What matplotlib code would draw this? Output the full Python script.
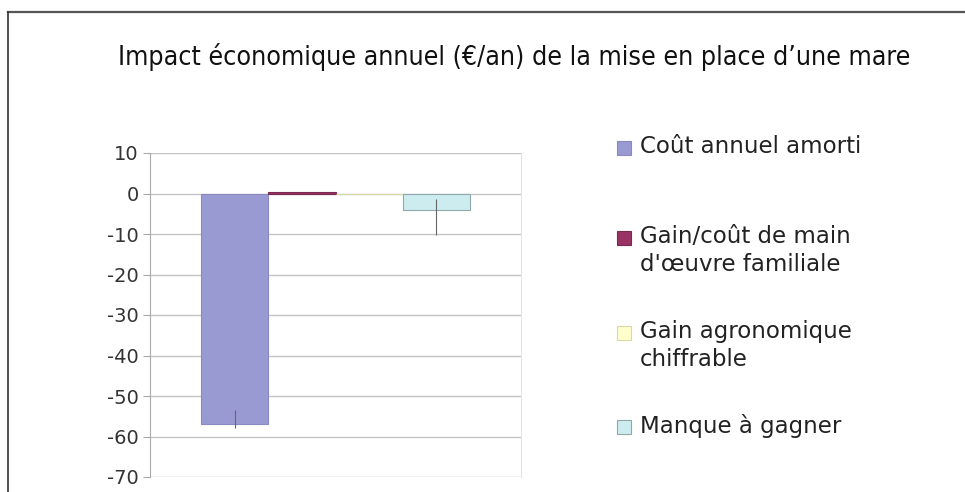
import matplotlib
matplotlib.use("Agg")
import matplotlib.pyplot as plt
from matplotlib.patches import Rectangle
from matplotlib.lines import Line2D
import numpy as np

plt.rcParams["axes.unicode_minus"] = False

# Données (€/an)
SERIES = ["Coût annuel amorti", "Gain/coût de main\nd'œuvre familiale",
          "Gain agronomique\nchiffrable", "Manque à gagner"]
VALUES = [-57, 0.3, 0, -4]
ERR_LOW = [0.8, 0, 0, 6.3]
ERR_HIGH = [3.5, 0, 0, 2.6]
COLORS = ["#9a9ad2", "#993366", "#ffffcc", "#ccecf0"]
EDGES = ["#8a8ac0", "#7a2a50", "#d8d8a8", "#90a8aa"]
YTICKS = list(range(-70, 11, 10))
TITLE = "Impact économique annuel (€/an) de la mise en place d\u2019une mare"

W, H = 965, 492
fig = plt.figure(figsize=(W / 100, H / 100), dpi=100)
fig.patch.set_facecolor("white")

# cadre extérieur (haut + gauche)
fig.add_artist(Line2D([8 / W, 1], [1 - 12 / H, 1 - 12 / H], color="#555555", lw=1.6))
fig.add_artist(Line2D([8 / W, 8 / W], [0, 1 - 12 / H], color="#333333", lw=1.2))

title = fig.text(514 / W, 1 - 57 / H, TITLE, ha="center", va="center", fontsize=22,
                 family="DejaVu Sans", stretch="condensed", color="#111111")
# ajuster la taille pour tenir dans la largeur du titre d'origine (~793 px)
r = fig.canvas.get_renderer()
tw = title.get_window_extent(renderer=r).width
if tw > 795:
    title.set_fontsize(22 * 793 / tw)

ax = fig.add_axes([150 / W, 15 / H, 371 / W, 324 / H])
w = 0.181
x = (np.arange(len(VALUES)) - 1.5) * w
ax.bar(x, VALUES, w, color=COLORS, edgecolor=EDGES, linewidth=0.8, zorder=2)
ax.errorbar(x, VALUES, yerr=[ERR_LOW, ERR_HIGH], fmt="none", ecolor="#666666",
            elinewidth=0.8, capsize=0, zorder=3)
ax.set_xlim(-0.5, 0.5)
ax.set_ylim(-70, 10)
ax.set_yticks(YTICKS)
ax.set_xticks([])
ax.tick_params(axis="y", direction="out", length=5, color="#aaaaaa",
               labelsize=14, labelcolor="#333333", pad=3)
ax.yaxis.grid(True, color="#c4c4c4", lw=1.0, zorder=0)
ax.set_axisbelow(True)
for s in ["top", "bottom"]:
    ax.spines[s].set_visible(False)
ax.spines["left"].set_color("#aaaaaa")
ax.spines["right"].set_color("#e4e4e4")

# légende
rows = [148, 238, 333, 427]
for name, c, e, y in zip(SERIES, COLORS, EDGES, rows):
    fig.add_artist(Rectangle((617 / W, 1 - (y + 7) / H), 14 / W, 14 / H,
                             facecolor=c, edgecolor=e, lw=0.8, transform=fig.transFigure))
    fig.text(640 / W, 1 - (y - 13) / H, name, ha="left", va="top", fontsize=16.5,
             color="#222222", linespacing=1.3)

fig.savefig("out.png", dpi=100)
